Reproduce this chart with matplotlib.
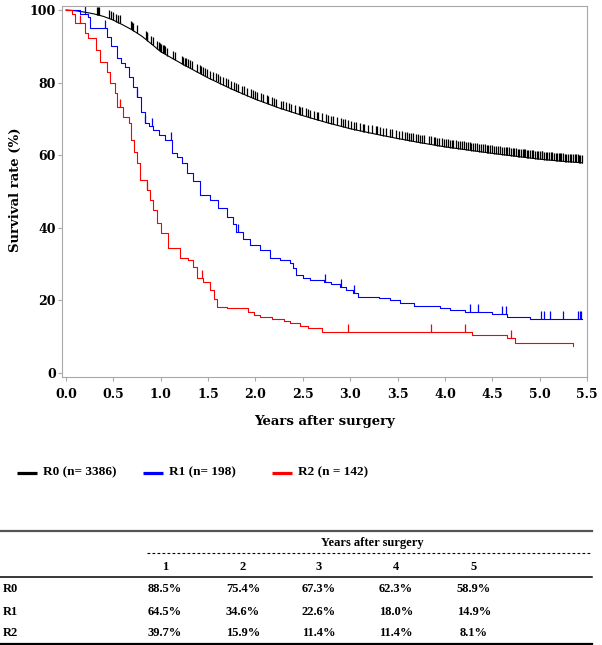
import numpy as np
import matplotlib
matplotlib.use("Agg")
import matplotlib.pyplot as plt

# Kaplan-Meier estimates (years, survival %)
r0_t = [0, 0.1, 0.2, 0.3, 0.4, 0.5, 0.6, 0.7, 0.8, 0.9, 1.0, 1.25, 1.5, 1.75, 2.0,
        2.25, 2.5, 2.75, 3.0, 3.25, 3.5, 3.75, 4.0, 4.25, 4.5, 4.75, 5.0, 5.25, 5.45]
r0_s = [100, 99.8, 99.4, 98.9, 98.2, 97.2, 95.9, 94.5, 92.8, 90.7, 88.5, 84.8, 81.3, 78.2, 75.4,
        73.0, 70.9, 69.0, 67.3, 65.9, 64.6, 63.4, 62.3, 61.4, 60.5, 59.7, 58.9, 58.3, 57.9]

r1_t = [0, 0.15, 0.23, 0.25, 0.43, 0.48, 0.54, 0.58, 0.62, 0.67, 0.71, 0.75, 0.79, 0.83,
        0.88, 0.92, 0.98, 1.05, 1.12, 1.17, 1.22, 1.28, 1.34, 1.41, 1.52, 1.60, 1.70, 1.76,
        1.80, 1.87, 1.94, 2.05, 2.15, 2.26, 2.37, 2.40, 2.43, 2.50, 2.58, 2.72, 2.80, 2.89,
        2.96, 3.03, 3.08, 3.30, 3.42, 3.53, 3.67, 3.95, 4.05, 4.21, 4.50, 4.66, 4.90, 5.45]
r1_s = [100, 99, 98, 95, 92.6, 90, 86.8, 85.5, 84.3, 81.5, 78.8, 76, 72, 69,
        68, 67, 65.5, 64.2, 60.6, 59.5, 57.8, 55, 53, 49, 47.6, 45.5, 43, 41,
        38.9, 37, 35.3, 33.9, 31.7, 31.1, 30.3, 29, 27, 26.2, 25.6, 25, 24.4, 23.7,
        23, 22, 21, 20.6, 20.1, 19.3, 18.5, 17.9, 17.4, 16.8, 16.2, 15.4, 14.9, 14.9]

r2_t = [0, 0.06, 0.10, 0.20, 0.23, 0.32, 0.36, 0.43, 0.46, 0.52, 0.54, 0.60, 0.66, 0.69,
        0.72, 0.75, 0.78, 0.85, 0.89, 0.92, 0.96, 1.00, 1.08, 1.20, 1.29, 1.34, 1.38, 1.45,
        1.52, 1.56, 1.59, 1.70, 1.92, 1.98, 2.05, 2.17, 2.30, 2.37, 2.47, 2.56, 2.70, 4.29,
        4.66, 4.74, 5.35]
r2_s = [100, 99, 96.4, 93.6, 92.3, 89, 85.7, 83, 79.9, 77, 73.3, 70.5, 68.9, 64.2,
        61, 57.8, 53.2, 50.4, 47.6, 44.9, 41.3, 38.6, 34.4, 31.7, 31.1, 29.2, 26.2, 25.1,
        22.9, 20.5, 18.2, 17.9, 16.8, 16, 15.4, 14.9, 14.3, 13.8, 13, 12.4, 11.4, 10.5,
        9.6, 8.3, 7.4]

# censoring marks (years)
r0_cens = [0.33, 0.34, 0.35, 0.45, 0.48, 0.50, 0.53, 0.55, 0.57, 0.69, 0.70, 0.71, 0.75,
           0.84, 0.85, 0.86, 0.90, 0.92, 0.96, 0.98, 0.99, 1.00, 1.02, 1.03, 1.05, 1.07,
           1.13, 1.15, 1.22, 1.24, 1.26, 1.27, 1.29, 1.31, 1.33, 1.38, 1.41, 1.43, 1.45,
           1.47, 1.49, 1.52, 1.55, 1.58, 1.60, 1.63, 1.66, 1.69, 1.71, 1.74, 1.77, 1.80, 1.82,
           1.86, 1.88, 1.91, 1.95, 1.97, 2.00, 2.02, 2.06, 2.08, 2.12, 2.13, 2.17, 2.20, 2.22,
           2.27, 2.29, 2.32, 2.35, 2.38, 2.42, 2.46, 2.47, 2.49, 2.53, 2.55, 2.58, 2.62, 2.65,
           2.66, 2.70, 2.74, 2.77, 2.80, 2.82, 2.86, 2.90, 2.92, 2.95, 2.98, 3.01, 3.04, 3.06,
           3.10, 3.14, 3.15, 3.19, 3.23, 3.27, 3.28, 3.31, 3.35, 3.38, 3.42, 3.44, 3.48, 3.52,
           3.55, 3.58, 3.60, 3.62, 3.64, 3.66, 3.70, 3.72, 3.74, 3.76, 3.78, 3.83, 3.85, 3.88,
           3.90, 3.92, 3.94, 3.97, 3.99, 4.01, 4.03, 4.05, 4.07, 4.09, 4.12, 4.14, 4.16, 4.18,
           4.20, 4.22, 4.24, 4.26, 4.28, 4.30, 4.32, 4.34, 4.36, 4.38, 4.40, 4.42, 4.44, 4.46,
           4.48, 4.50, 4.52, 4.54, 4.56, 4.58, 4.60, 4.62, 4.64, 4.66, 4.68, 4.70, 4.72, 4.73,
           4.75, 4.77, 4.78, 4.80, 4.82, 4.83, 4.85, 4.87, 4.88, 4.90, 4.92, 4.93, 4.95, 4.97,
           4.98, 5.00, 5.02, 5.03, 5.05, 5.07, 5.08, 5.10, 5.12, 5.13, 5.15, 5.17, 5.18, 5.20,
           5.22, 5.23, 5.25, 5.27, 5.28, 5.30, 5.32, 5.33, 5.35, 5.37, 5.38, 5.40, 5.42, 5.43, 5.45]
r1_cens = [0.20, 0.41, 0.75, 0.83, 0.91, 1.11, 1.82, 2.73, 2.90, 3.04, 4.26, 4.35, 4.60,
           4.65, 5.01, 5.05, 5.11, 5.25, 5.41, 5.43, 5.44]
r2_cens = [0.15, 0.57, 0.85, 1.44, 2.98, 3.85, 4.21, 4.70]

legend_labels = ["R0 (n= 3386)", "R1 (n= 198)", "R2 (n = 142)"]
colors = ["black", "#0000ff", "#ff0000"]

# table of survival rates
table_years = ["1", "2", "3", "4", "5"]
table_rows = ["R0", "R1", "R2"]
table_vals = [["88.5%", "75.4%", "67.3%", "62.3%", "58.9%"],
              ["64.5%", "34.6%", "22.6%", "18.0%", "14.9%"],
              ["39.7%", "15.9%", "11.4%", "11.4%", "8.1%"]]


def step_at(t, s, x):
    idx = np.searchsorted(t, x, side="right") - 1
    return np.array(s)[idx]


plt.rcParams["font.family"] = "DejaVu Serif"
plt.rcParams["font.weight"] = "bold"

fig = plt.figure(figsize=(6.02, 6.45), dpi=100)

# overlay in pixel coordinates for legend + table
ax_t = fig.add_axes([0, 0, 1, 1])
ax_t.set_xlim(0, 602)
ax_t.set_ylim(645, 0)
ax_t.axis("off")

ax = fig.add_axes([62 / 602, 1 - 377 / 645, 525 / 602, 371 / 645])
ax.set_xlim(-0.042, 5.5)
ax.set_ylim(-1.1, 101.1)

tick_h = 2.2
ax.plot(r0_t, r0_s, color=colors[0], lw=0.8)
y0 = np.interp(r0_cens, r0_t, r0_s)
ax.vlines(r0_cens, y0, y0 + tick_h, color=colors[0], lw=0.9)
ax.step(r1_t, r1_s, where="post", color=colors[1], lw=0.8)
y1 = step_at(r1_t, r1_s, r1_cens)
ax.vlines(r1_cens, y1, y1 + tick_h, color=colors[1], lw=0.9)
ax.step(r2_t, r2_s, where="post", color=colors[2], lw=0.8)
y2 = step_at(r2_t, r2_s, r2_cens)
ax.vlines(r2_cens, y2, y2 + tick_h, color=colors[2], lw=0.9)

ax.set_xticks(np.arange(0, 5.51, 0.5))
ax.set_xticklabels([f"{v:.1f}" for v in np.arange(0, 5.51, 0.5)])
ax.set_yticks([0, 20, 40, 60, 80, 100])
for sp in ax.spines.values():
    sp.set_color("#a8a8a8")
    sp.set_linewidth(0.8)
ax.tick_params(direction="out", length=3, width=0.8, color="#a8a8a8", labelsize=9)
ax.tick_params(axis="x", pad=5)
ax.tick_params(axis="y", pad=1.5)

fig.text(325 / 602, 1 - 421 / 645, "Years after surgery", ha="center", va="center", fontsize=9.5)
fig.text(15 / 602, 1 - 190 / 645, "Survival rate (%)", ha="center", va="center",
         rotation=90, fontsize=9.5)

# legend
tfont = dict(family="Liberation Serif", weight="bold")
leg_x = [17, 143, 272]
for x0, lab, c in zip(leg_x, legend_labels, colors):
    ax_t.plot([x0, x0 + 20], [472.5, 472.5], color=c, lw=2.3, solid_capstyle="butt")
    ax_t.text(x0 + 26, 472.5, lab, ha="left", va="center", fontsize=9.5, **tfont)

# table
col_x = [165, 243, 319, 396, 474]
ax_t.plot([0, 592], [531, 531], color="#555555", lw=1.6)
ax_t.text(372, 543, "Years after surgery", ha="center", va="center", fontsize=9, **tfont)
ax_t.plot([147, 592], [553, 553], color="black", lw=0.8, linestyle=(0, (2.5, 2)))
for x, yr in zip(col_x, table_years):
    ax_t.text(x, 566.5, yr, ha="center", va="center", fontsize=9, **tfont)
ax_t.plot([0, 592], [577, 577], color="black", lw=1.1)
row_y = [589.5, 612, 633.5]
for y, name, vals in zip(row_y, table_rows, table_vals):
    ax_t.text(3, y, name, ha="left", va="center", fontsize=9, **tfont)
    for x, v in zip(col_x, vals):
        ax_t.text(x, y, v, ha="center", va="center", fontsize=9, **tfont)
ax_t.plot([0, 592], [644, 644], color="black", lw=1.6)

fig.savefig("out.png", dpi=100)
